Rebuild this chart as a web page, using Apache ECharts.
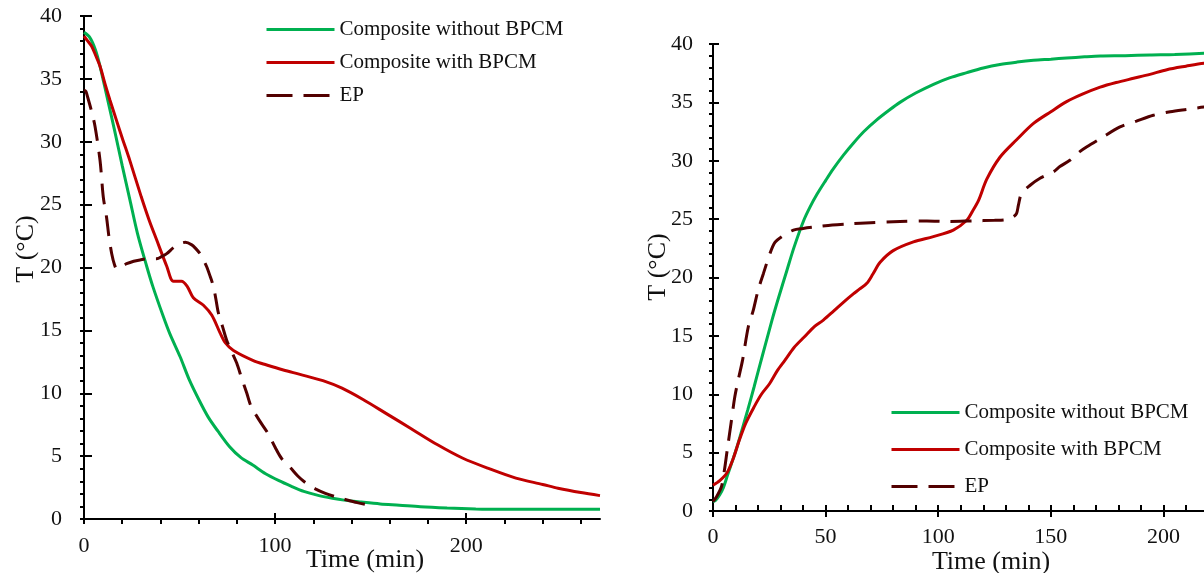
<!DOCTYPE html>
<html>
<head>
<meta charset="utf-8">
<title>T vs time</title>
<script src="https://cdn.jsdelivr.net/npm/echarts@6/dist/echarts.min.js"></script>
<style>
  html, body { margin: 0; padding: 0; background: #fff; }
  #chart { width: 1204px; height: 573px; }
</style>
</head>
<body>
<div id="chart"></div>
<script>
  // ---- data ----
  var seriesNames = ['Composite without BPCM', 'Composite with BPCM', 'EP'];

  // left panel: cooling
  var coolGreenTime = [0, 3, 6, 8.4, 12, 16, 20, 24, 28, 32.8, 36, 41.5, 45, 50.3, 55, 60.2, 65, 70, 76.2, 82, 88.3, 95, 102, 108.3, 115, 122, 130, 136, 145, 155, 165, 176, 190, 205, 216, 230, 245, 260, 270];
  var coolGreenTemp = [38.7, 38.3, 37.3, 36.0, 33.6, 30.9, 28.1, 25.4, 22.7, 20.1, 18.5, 16.1, 14.7, 12.9, 11.1, 9.46, 8.1, 7.0, 5.75, 4.9, 4.29, 3.6, 3.05, 2.62, 2.2, 1.9, 1.65, 1.5, 1.35, 1.2, 1.1, 0.98, 0.88, 0.8, 0.77, 0.77, 0.78, 0.77, 0.78];

  var coolRedTime = [0, 2, 4, 6, 8.4, 11, 13.6, 17, 20, 24, 30, 34, 38, 43.3, 46.8, 51, 54, 57.2, 62.5, 66.9, 71.2, 74, 78.2, 88.6, 95.6, 104.3, 113, 125, 135, 146, 158, 171, 185, 198, 212, 226, 240, 248, 260, 270];
  var coolRedTemp = [38.4, 38.0, 37.6, 36.9, 36.0, 34.6, 33.3, 31.7, 30.3, 28.5, 25.6, 23.8, 22.2, 20.1, 18.9, 18.9, 18.5, 17.6, 17.0, 16.2, 14.8, 14.0, 13.4, 12.6, 12.25, 11.85, 11.5, 11.0, 10.4, 9.5, 8.4, 7.2, 5.9, 4.85, 4.0, 3.25, 2.75, 2.45, 2.1, 1.86];

  var coolEpTime = [0, 1, 2, 4, 5.8, 8.4, 10.1, 11.8, 13, 14.5, 16, 17.1, 20, 22.3, 26, 29.3, 34, 38, 41, 43.3, 47, 50.3, 53, 56.4, 58.5, 60.7, 62.5, 64.2, 66, 67.7, 69, 70.3, 72.5, 74.7, 77.3, 79.9, 82.5, 85.2, 87.3, 91.5, 96.3, 100, 103.3, 108.3, 112, 116.3, 121, 126.3, 131, 136.3, 143, 151.3];
  var coolEpTemp = [34.1, 34.0, 33.5, 32.4, 31.2, 28.5, 25.6, 24.0, 22.5, 21.1, 20.2, 19.9, 20.1, 20.3, 20.5, 20.6, 20.7, 20.7, 20.9, 21.1, 21.6, 21.9, 22.0, 21.8, 21.5, 21.1, 20.6, 20.06, 19.3, 18.5, 17.5, 16.4, 15.3, 14.2, 13.3, 12.4, 11.2, 10.0, 9.0, 7.9, 6.8, 5.7, 4.83, 4.03, 3.4, 2.84, 2.4, 2.04, 1.8, 1.57, 1.3, 1.03];

  // right panel: heating (plot is cut off by the page edge near 218 min)
  var heatGreenTime = [0, 1.1, 3, 4.6, 6.5, 8.8, 11, 13.1, 15.5, 18.2, 20.8, 23.4, 26.2, 29, 32.8, 36, 40.1, 43, 46.1, 50, 53.4, 58, 62.3, 67, 72.7, 78, 83, 90, 97.9, 105, 112.7, 120, 127.4, 135, 142.3, 150, 157, 165, 172, 183, 194, 205, 218, 228];
  var heatGreenTemp = [0.8, 0.9, 1.4, 2.0, 3.1, 4.4, 5.7, 7.1, 8.7, 10.6, 12.5, 14.35, 16.35, 18.2, 20.6, 22.6, 24.8, 26.0, 27.1, 28.3, 29.3, 30.5, 31.5, 32.5, 33.5, 34.3, 35.0, 35.8, 36.55, 37.1, 37.55, 37.95, 38.25, 38.45, 38.6, 38.7, 38.8, 38.9, 38.97, 39.0, 39.06, 39.1, 39.2, 39.25];

  var heatRedTime = [0, 3, 6.3, 9, 11.4, 14.5, 18.2, 21.5, 25.1, 28.5, 31.9, 36, 40.5, 45, 49, 53.4, 58, 62.3, 65, 68.3, 71, 74.2, 80, 89, 97.8, 106.7, 112.7, 115, 117.9, 121.5, 127.4, 134.8, 142.3, 150, 157, 164, 171.9, 179, 186.7, 194, 201.5, 210, 218, 228];
  var heatRedTemp = [2.2, 2.6, 3.3, 4.5, 5.9, 7.5, 8.9, 10.0, 10.9, 12.0, 12.9, 14.0, 14.9, 15.8, 16.35, 17.1, 17.9, 18.6, 19.0, 19.5, 20.3, 21.3, 22.3, 23.05, 23.5, 24.06, 24.9, 25.6, 26.6, 28.4, 30.3, 31.8, 33.2, 34.2, 35.06, 35.7, 36.3, 36.7, 37.06, 37.4, 37.8, 38.1, 38.35, 38.5];

  var heatEpTime = [0, 1.5, 3.7, 5, 6.3, 8, 9.7, 11.4, 13.1, 15.7, 17.9, 20, 22.4, 25.3, 27.5, 30.5, 35.7, 40, 46.1, 53, 60.8, 70, 83, 95, 105, 115, 125, 130, 133.3, 134.8, 135.6, 137, 140.8, 145.2, 151.2, 154, 158.6, 163, 166, 172, 180.7, 188, 195.5, 203, 210.3, 218, 228];
  var heatEpTemp = [0.8, 1.2, 2.06, 3.4, 5.2, 7.5, 9.8, 11.4, 12.9, 15.8, 17.2, 18.9, 20.35, 22.06, 23.0, 23.5, 24.06, 24.2, 24.35, 24.5, 24.6, 24.7, 24.8, 24.85, 24.8, 24.85, 24.9, 24.95, 25.2, 25.5, 26.2, 27.2, 27.9, 28.5, 29.06, 29.5, 30.06, 30.8, 31.2, 31.9, 32.9, 33.4, 33.9, 34.2, 34.4, 34.6, 34.8];

  // tick values
  var coolMajorTicks = [0, 100, 200];
  var coolMinorTicks = [0, 20, 40, 60, 80, 100, 120, 140, 160, 180, 200, 220, 240, 260];
  var heatMajorTicks = [0, 50, 100, 150, 200];
  var heatMinorTicks = [0, 10, 20, 30, 40, 50, 60, 70, 80, 90, 100, 110, 120, 130, 140, 150, 160, 170, 180, 190, 200, 210];

  var colors = ['#00b050', '#c00000', '#520000'];
  var serif = '"Liberation Serif", "Times New Roman", serif';

  function pairs(xs, ys) {
    var out = [];
    for (var i = 0; i < xs.length; i++) out.push([xs[i], ys[i]]);
    return out;
  }

  function lineSeries(idx, axisIdx, xs, ys) {
    return {
      name: seriesNames[idx],
      type: 'line',
      xAxisIndex: axisIdx,
      yAxisIndex: axisIdx,
      data: pairs(xs, ys),
      symbol: 'none',
      smooth: 0.3,
      z: idx === 2 ? 3 : 2,
      lineStyle: {
        color: colors[idx],
        width: 3,
        type: idx === 2 ? [21, 11] : 'solid'
      },
      itemStyle: { color: colors[idx] }
    };
  }

  var axisLineStyle = { color: '#000', width: 2 };
  var tickStyle = { color: '#000', width: 2 };
  var labelStyle = { color: '#111', fontFamily: serif, fontSize: 22 };

  function mainX(grid, max, labels, ticks, inside, len, margin) {
    return {
      type: 'value', gridIndex: grid, position: 'bottom', min: 0, max: max,
      axisLine: { show: true, onZero: false, lineStyle: axisLineStyle },
      axisTick: { show: true, inside: inside, length: len, lineStyle: tickStyle, customValues: ticks },
      axisLabel: Object.assign({ margin: margin, customValues: labels }, labelStyle),
      splitLine: { show: false }
    };
  }
  function overlayX(grid, max, ticks, inside, len) {
    return {
      type: 'value', gridIndex: grid, position: 'bottom', min: 0, max: max,
      axisLine: { show: false, onZero: false },
      axisTick: { show: true, inside: inside, length: len, lineStyle: tickStyle, customValues: ticks },
      axisLabel: { show: false },
      splitLine: { show: false }
    };
  }
  function mainY(grid, margin) {
    return {
      type: 'value', gridIndex: grid, position: 'left', min: 0, max: 40, interval: 5,
      axisLine: { show: true, onZero: false, lineStyle: axisLineStyle },
      axisTick: { show: true, inside: false, length: 4, lineStyle: tickStyle },
      minorTick: { show: true, splitNumber: 5, length: 4, lineStyle: tickStyle },
      axisLabel: Object.assign({ margin: margin }, labelStyle),
      splitLine: { show: false },
      minorSplitLine: { show: false }
    };
  }
  function overlayY(grid, len) {
    return {
      type: 'value', gridIndex: grid, position: 'left', min: 0, max: 40, interval: 5,
      axisLine: { show: false, onZero: false },
      axisTick: { show: true, inside: true, length: len, lineStyle: tickStyle },
      axisLabel: { show: false },
      splitLine: { show: false }
    };
  }

  function legendAt(left, top, gap) {
    return {
      data: [
        { name: seriesNames[0] },
        { name: seriesNames[1] },
        { name: seriesNames[2], lineStyle: { type: [26, 11] } }
      ],
      orient: 'vertical',
      left: left,
      top: top,
      itemWidth: 68,
      itemHeight: 2,
      itemGap: gap,
      selectedMode: false,
      itemStyle: { opacity: 0 },
      lineStyle: { width: 3 },
      textStyle: { color: '#111', fontFamily: serif, fontSize: 21, lineHeight: 21 }
    };
  }

  function axisTitle(x, y, text, rotate) {
    return {
      type: 'text', x: x, y: y, rotation: rotate ? Math.PI / 2 : 0,
      style: {
        text: text, fill: '#111', align: 'center', verticalAlign: 'middle',
        font: '26px ' + serif
      }
    };
  }

  var myChart = echarts.init(document.getElementById('chart'), null, { renderer: 'canvas' });

  var option = {
    animation: false,
    backgroundColor: '#fff',
    grid: [
      { left: 84, top: 16, width: 516, height: 503 },
      { left: 713, top: 44, right: 0, height: 467 }
    ],
    xAxis: [
      mainX(0, 270, coolMajorTicks, coolMinorTicks, false, 5, 16),
      overlayX(0, 270, coolMajorTicks, true, 6),
      mainX(1, 218, heatMajorTicks, heatMajorTicks, false, 6, 15),
      overlayX(1, 218, heatMinorTicks, true, 6)
    ],
    yAxis: [mainY(0, 22), overlayY(0, 8), mainY(1, 20), overlayY(1, 6)],
    legend: [legendAt(260, 14, 12), legendAt(885, 397, 16)],
    graphic: [
      axisTitle(365, 560, 'Time (min)', false),
      axisTitle(991, 562, 'Time (min)', false),
      axisTitle(26, 249, 'T (°C)', true),
      axisTitle(658, 267, 'T (°C)', true)
    ],
    series: [
      lineSeries(0, 0, coolGreenTime, coolGreenTemp),
      lineSeries(1, 0, coolRedTime, coolRedTemp),
      lineSeries(2, 0, coolEpTime, coolEpTemp),
      lineSeries(0, 2, heatGreenTime, heatGreenTemp),
      lineSeries(1, 2, heatRedTime, heatRedTemp),
      lineSeries(2, 2, heatEpTime, heatEpTemp)
    ]
  };

  myChart.setOption(option);
</script>
</body>
</html>
